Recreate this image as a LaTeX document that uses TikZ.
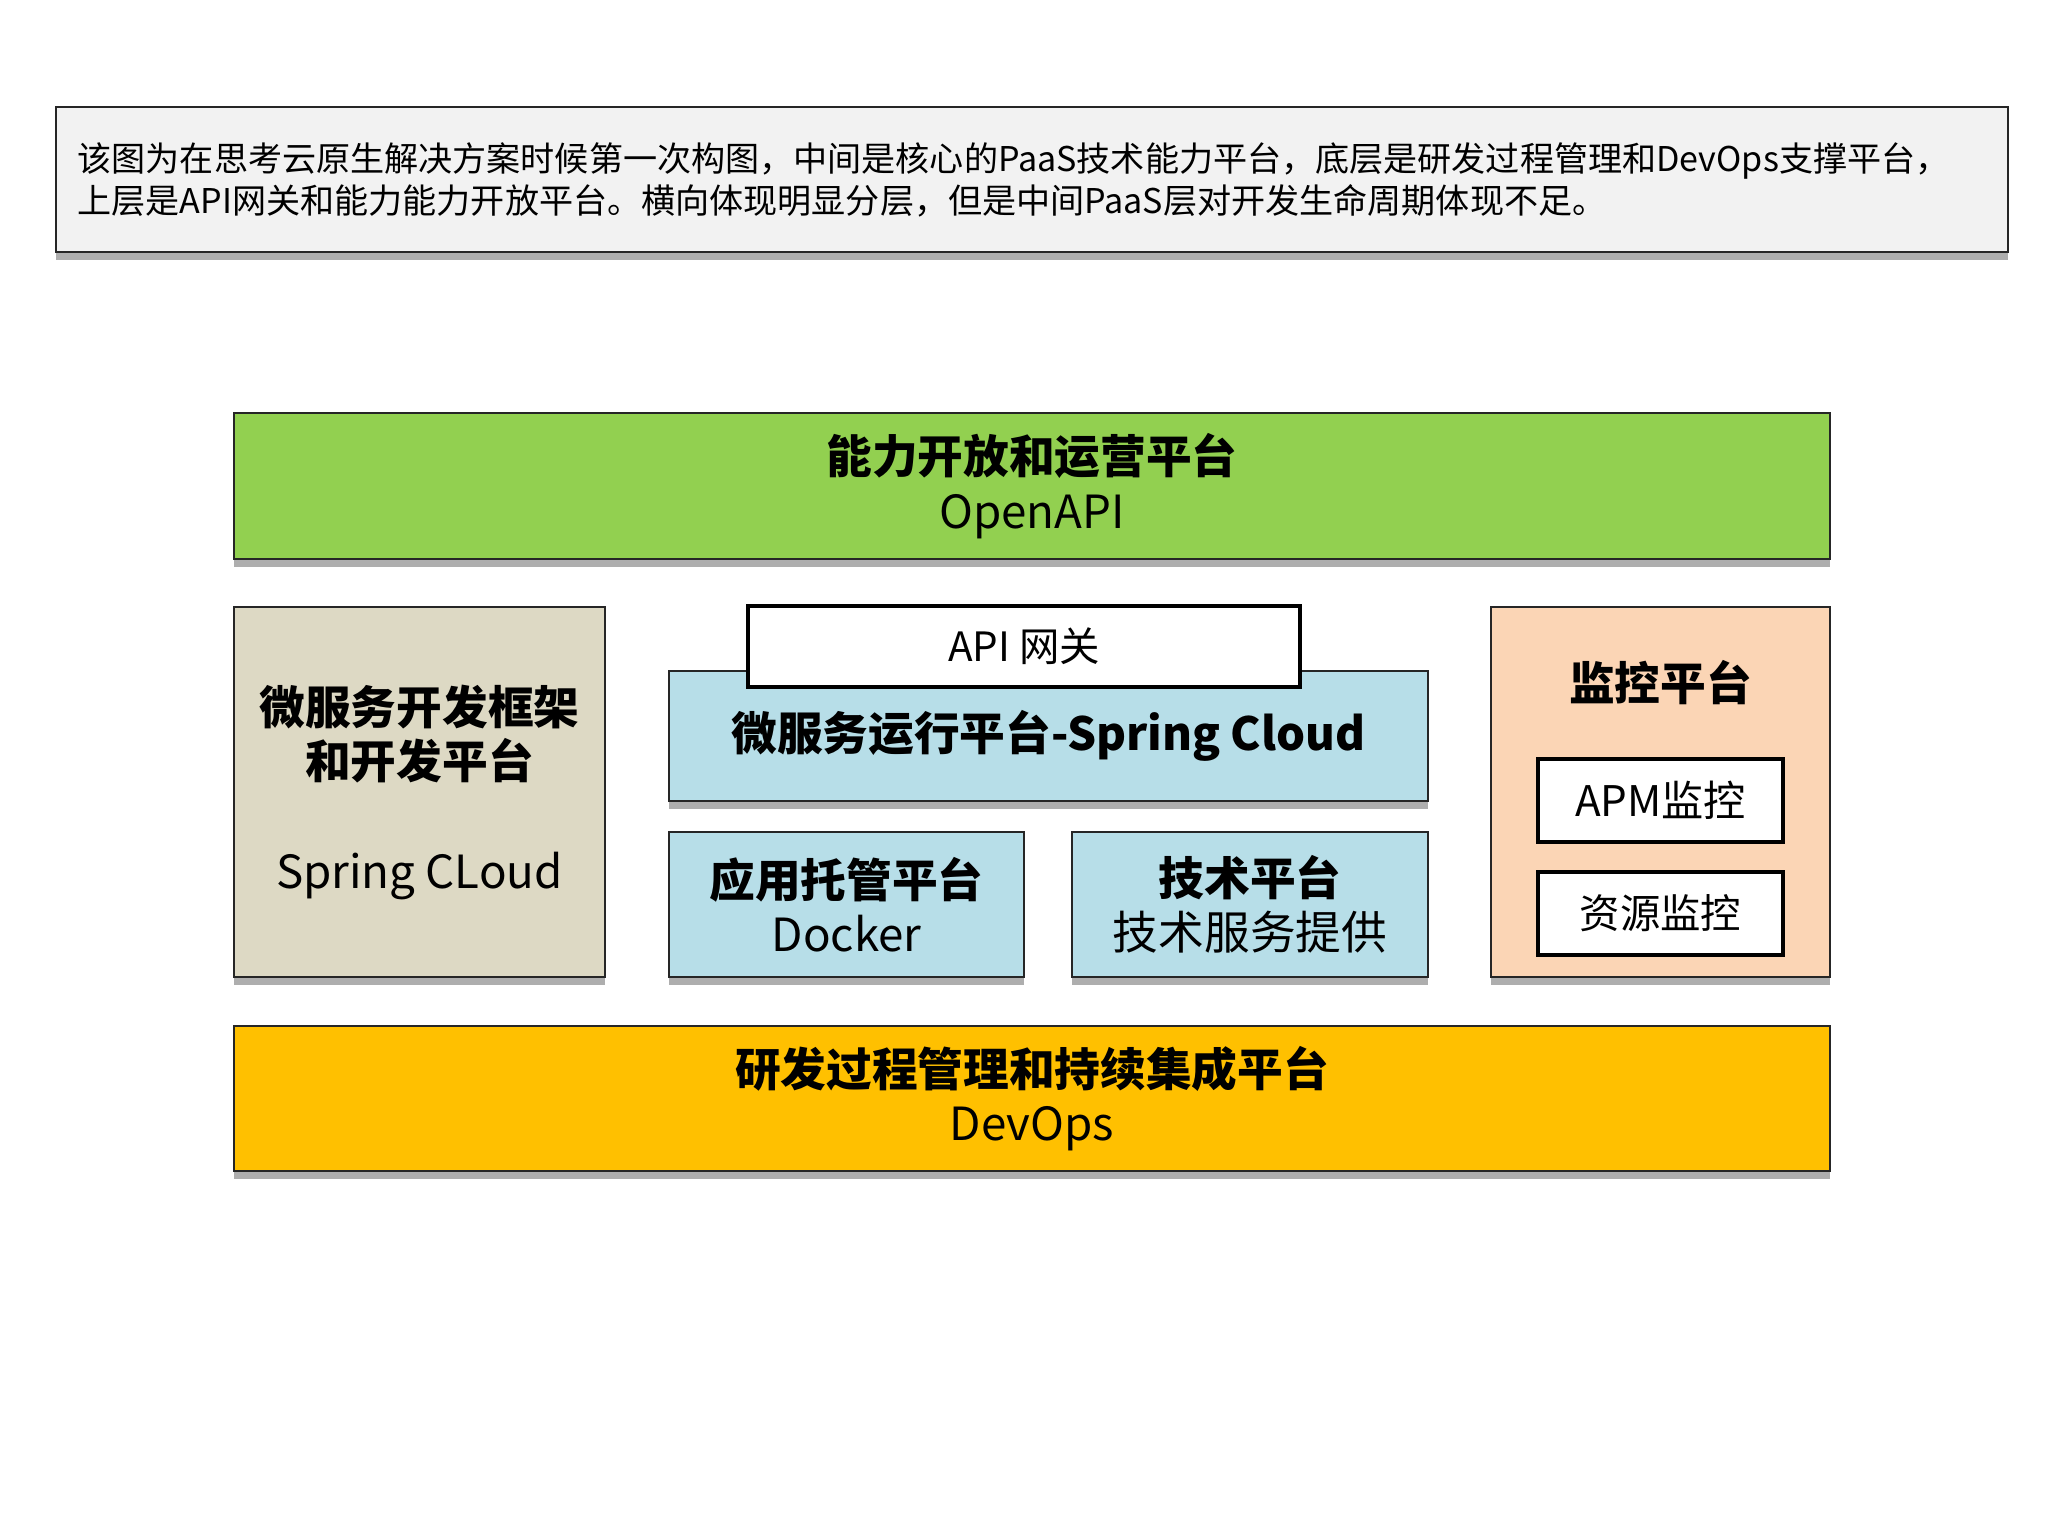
\documentclass[tikz,border=0pt]{standalone}
\usepackage{fontspec}
\setmainfont{Noto Sans CJK SC}
\usepackage{tikz}
\usetikzlibrary{calc,shadows,positioning}

\definecolor{boxgreen}{HTML}{92D050}
\definecolor{boxbeige}{HTML}{DDD9C4}
\definecolor{boxblue}{HTML}{B7DEE8}
\definecolor{boxpeach}{HTML}{FBD5B5}
\definecolor{boxyellow}{HTML}{FFC000}
\definecolor{notegray}{HTML}{F2F2F2}

\begin{document}
\begin{tikzpicture}[
	layer/.style={draw=black!85, line width=0.6pt, inner sep=0pt, outer sep=0pt, anchor=north west, align=center,
		drop shadow={shadow xshift=0pt, shadow yshift=-0.08cm, fill=black!45, opacity=0.7},
		font=\fontsize{13}{15.5}\selectfont},
	inner/.style={draw=black, line width=1.4pt, fill=white, inner sep=0pt, outer sep=0pt, anchor=north west,
		font=\fontsize{11.5}{14}\selectfont}]
								\useasboundingbox (0,0) rectangle (20.48,-15.36);

								\coordinate (topleft) at (2.34,-4.13);
								\coordinate (midleft) at (2.34,-6.07);
								\coordinate (botleft) at (2.34,-10.26);

								\node[layer, fill=notegray, minimum width=19.52cm, minimum height=1.45cm] (note) at (0.56,-1.07) {};
								\node[anchor=west, align=left, inner sep=0pt, font=\fontsize{9.7}{11.9}\selectfont] (notetext) at (0.77,-1.80)
									{该图为在思考云原生解决方案时候第一次构图，中间是核心的PaaS技术能力平台，底层是研发过程管理和DevOps支撑平台，\\
									上层是API网关和能力能力开放平台。横向体现明显分层，但是中间PaaS层对开发生命周期体现不足。};

								\node[layer, fill=boxgreen, minimum width=15.96cm, minimum height=1.46cm] (openapi) at (topleft)
									{\textbf{能力开放和运营平台}\\OpenAPI};

								\node[layer, fill=boxbeige, minimum width=3.71cm, minimum height=3.70cm] (devframe) at (midleft)
									{\textbf{微服务开发框架}\\\textbf{和开发平台}\\[0.55cm]Spring CLoud};

								\node[layer, fill=boxblue, minimum width=7.59cm, minimum height=1.30cm] (runtime) at (6.69,-6.71)
									{\raisebox{-0.05cm}{\textbf{微服务运行平台-Spring Cloud}}};
								\node[inner, minimum width=5.52cm, minimum height=0.81cm] (gateway) at (7.48,-6.06) {API 网关};

								\node[layer, fill=boxblue, minimum width=3.55cm, minimum height=1.45cm] (docker) at (6.69,-8.32)
									{\textbf{应用托管平台}\\Docker};
								\node[layer, fill=boxblue, minimum width=3.56cm, minimum height=1.45cm] (techplat) at (10.72,-8.32)
									{\textbf{技术平台}\\技术服务提供};

								\node[layer, fill=boxpeach, minimum width=3.39cm, minimum height=3.70cm] (monitor) at (14.91,-6.07) {};
								\node[font=\fontsize{13}{15.5}\selectfont\bfseries, inner sep=0pt] (monitortitle) at ($(monitor.north)+(0,-0.76)$) {监控平台};
								\node[inner, minimum width=2.45cm, minimum height=0.83cm, font=\fontsize{12}{14}\selectfont] (apm) at (15.38,-7.59) {APM监控};
								\node[inner, minimum width=2.45cm, minimum height=0.83cm] (resource) at (15.38,-8.72) {资源监控};

								\node[layer, fill=boxyellow, minimum width=15.96cm, minimum height=1.45cm] (devops) at (botleft)
									{\textbf{研发过程管理和持续集成平台}\\DevOps};
							\end{tikzpicture}
\end{document}
